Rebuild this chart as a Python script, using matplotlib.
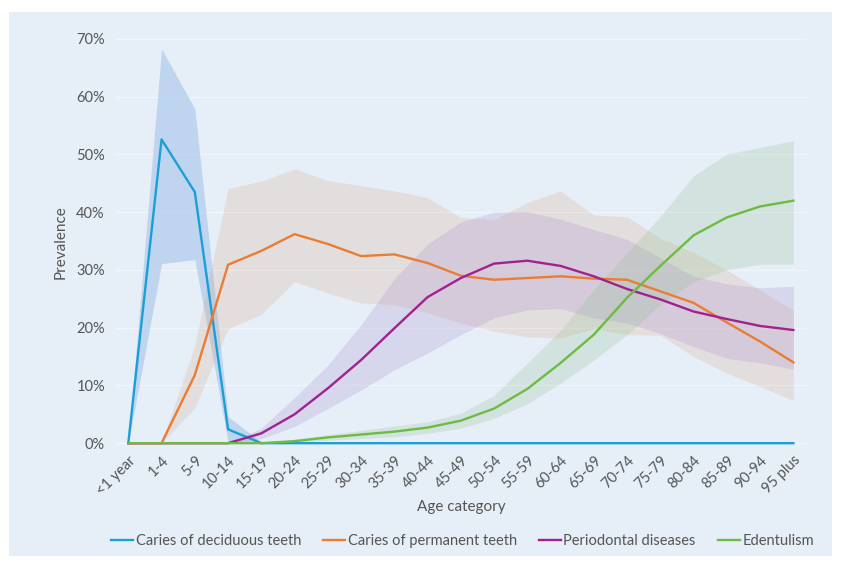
import numpy as np
import matplotlib
matplotlib.use("Agg")
import matplotlib.pyplot as plt
from matplotlib.patches import Rectangle

# --- data (prevalence, %) ---
ages = ["<1 year", "1-4", "5-9", "10-14", "15-19", "20-24", "25-29", "30-34", "35-39",
        "40-44", "45-49", "50-54", "55-59", "60-64", "65-69", "70-74", "75-79", "80-84",
        "85-89", "90-94", "95 plus"]

decid = [0, 52.6, 43.5, 2.4, 0, 0, 0, 0, 0, 0, 0, 0, 0, 0, 0, 0, 0, 0, 0, 0, 0]
decid_lo = [0, 31.1, 31.8, 0.2, 0, 0, 0, 0, 0, 0, 0, 0, 0, 0, 0, 0, 0, 0, 0, 0, 0]
decid_hi = [0, 68.3, 57.9, 4.6, 0.2, 0, 0, 0, 0, 0, 0, 0, 0, 0, 0, 0, 0, 0, 0, 0, 0]

perm = [0, 0, 11.8, 30.9, 33.3, 36.2, 34.5, 32.4, 32.7, 31.2, 29.0, 28.3, 28.6, 28.9,
        28.5, 28.3, 26.3, 24.3, 20.9, 17.6, 14.0]
perm_lo = [0, 0, 6.1, 19.8, 22.3, 28.0, 26.0, 24.3, 24.0, 22.6, 20.8, 19.4, 18.4, 18.2,
           19.8, 18.8, 18.7, 15.0, 12.1, 9.8, 7.4]
perm_hi = [0, 0, 17.0, 44.1, 45.4, 47.5, 45.5, 44.6, 43.7, 42.5, 39.1, 38.7, 41.7, 43.7,
           39.5, 39.2, 35.5, 33.0, 30.0, 26.5, 23.0]

perio = [0, 0, 0, 0, 1.7, 5.0, 9.5, 14.4, 19.9, 25.3, 28.6, 31.1, 31.6, 30.7, 28.9,
         26.7, 24.9, 22.8, 21.5, 20.3, 19.6]
perio_lo = [0, 0, 0, 0, 0.8, 2.9, 6.0, 9.2, 12.7, 15.6, 18.8, 21.7, 23.1, 23.3, 21.7,
            20.8, 19.0, 16.7, 14.7, 13.9, 12.8]
perio_hi = [0, 0, 0, 0, 2.6, 7.9, 13.5, 20.5, 28.5, 34.5, 38.3, 40.0, 40.1, 38.8, 37.0,
            35.3, 32.1, 28.9, 27.6, 26.9, 27.2]

edent = [0, 0, 0, 0, 0, 0.35, 1.0, 1.5, 2.0, 2.7, 3.9, 6.0, 9.4, 13.9, 18.8, 25.2, 30.7,
         36.0, 39.1, 41.0, 42.0]
edent_lo = [0, 0, 0, 0, 0, 0.15, 0.5, 0.8, 1.1, 1.7, 2.6, 4.3, 6.8, 10.4, 14.4, 18.8,
            24.0, 28.0, 30.0, 31.0, 31.0]
edent_hi = [0, 0, 0, 0, 0, 0.7, 1.5, 2.2, 3.0, 3.7, 5.2, 8.3, 13.9, 19.6, 26.6, 33.0,
            39.3, 46.3, 50.1, 51.2, 52.4]

names = ["Caries of deciduous teeth", "Caries of permanent teeth",
         "Periodontal diseases", "Edentulism"]

BG = "#e6eef8"
TXT = "#555555"
line_cols = ["#1a9fd6", "#ea7d33", "#a1228f", "#6dbb43"]
band_cols = ["#6a9fdd", "#d9a078", "#a890d0", "#8cc08a"]
band_alpha = [0.32, 0.2, 0.25, 0.22]

plt.rcParams["font.family"] = ["Lato", "DejaVu Sans"]

fig = plt.figure(figsize=(8.44, 5.64), dpi=100)
fig.patch.set_facecolor("white")
fig.patches.append(Rectangle((9 / 844, 1 - 556 / 564), 823 / 844, 544 / 564,
                             transform=fig.transFigure, facecolor=BG, edgecolor="none",
                             zorder=-10))

ax = fig.add_axes([116 / 844, 1 - 447.8 / 564, 691 / 844, 411.7 / 564])
ax.set_facecolor("none")
x = np.arange(len(ages))

series = [(decid, decid_lo, decid_hi), (perm, perm_lo, perm_hi),
          (perio, perio_lo, perio_hi), (edent, edent_lo, edent_hi)]
for i, (m, lo, hi) in enumerate(series):
    ax.fill_between(x, lo, hi, color=band_cols[i], alpha=band_alpha[i], lw=0, zorder=1)
for i, (m, lo, hi) in enumerate(series):
    ax.plot(x, m, color=line_cols[i], lw=1.7, label=names[i], zorder=3)

ax.set_xlim(-0.37, 20.41)
ax.set_ylim(-0.8, 70.5)
ax.set_yticks(np.arange(0, 71, 10))
ax.set_yticklabels([f"{v}%" for v in range(0, 71, 10)])
ax.set_xticks(x)
ax.set_xticklabels(ages, rotation=45, ha="right", va="top", rotation_mode="anchor")
ax.tick_params(length=0, colors=TXT, labelsize=10.5)
ax.tick_params(axis="y", pad=8)
ax.tick_params(axis="x", pad=4)
for s in ax.spines.values():
    s.set_visible(False)
ax.grid(axis="y", color="#f0f5fb", lw=1.0, zorder=0)
ax.set_axisbelow(True)

ax.set_xlabel("Age category", color=TXT, fontsize=11, labelpad=1.5)
ax.set_ylabel("Prevalence", color=TXT, fontsize=11, labelpad=6)

fig.legend(loc="center", bbox_to_anchor=(0.548, 1 - 541 / 564), ncol=4, frameon=False,
           handlelength=1.5, handletextpad=0.2, columnspacing=1.5, fontsize=10.5,
           labelcolor=TXT)

fig.savefig("out.png", dpi=100)
